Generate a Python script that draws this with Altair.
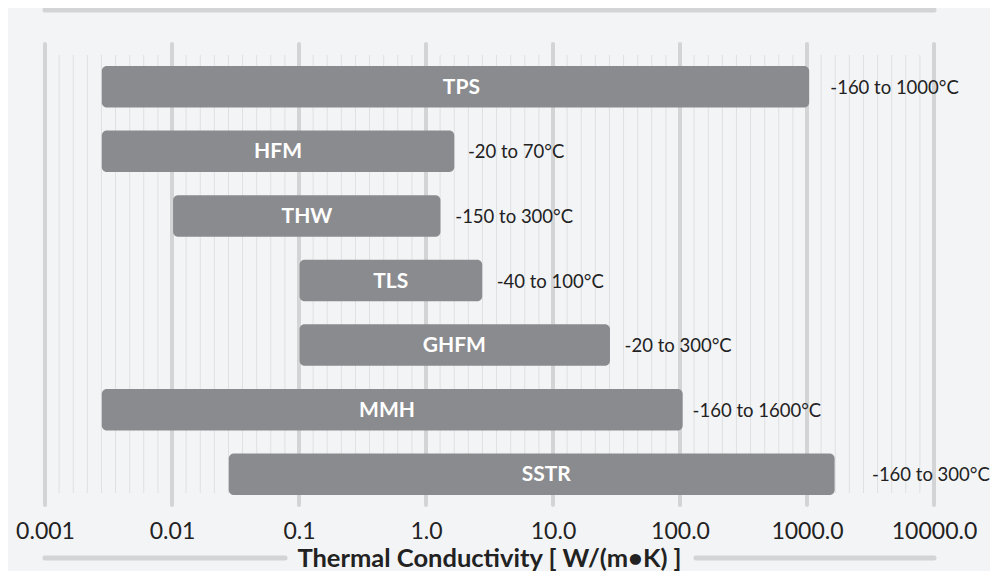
import altair as alt
import pandas as pd

# ---- data ----
methods = ["TPS", "HFM", "THW", "TLS", "GHFM", "MMH", "SSTR"]
k_min = [0.0028, 0.0028, 0.0102, 0.101, 0.101, 0.0028, 0.028]
k_max = [1040, 1.67, 1.30, 2.77, 28.1, 105, 1650]
temp_ranges = ["-160 to 1000°C", "-20 to 70°C", "-150 to 300°C", "-40 to 100°C",
               "-20 to 300°C", "-160 to 1600°C", "-160 to 300°C"]
name_label_at = [1.90, 0.0684, 0.1156, 0.528, 1.67, 0.493, 8.85]
temp_label_at = [1525, 2.14, 1.70, 3.60, 36.6, 125.7, 3250]

tick_values = [0.001, 0.01, 0.1, 1, 10, 100, 1000, 10000]
tick_labels = ["0.001", "0.01", "0.1", "1.0", "10.0", "100.0", "1000.0", "10000.0"]
x_title = "Thermal Conductivity [ W/(m•K) ]"

FONT = "Lato"
W, H = 889, 477

bars_df = pd.DataFrame({
    "method": methods, "kmin": k_min, "kmax": k_max,
    "temp": temp_ranges, "name_at": name_label_at, "temp_at": temp_label_at,
})
major_df = pd.DataFrame({"v": tick_values})
# minor grid lines: 8 evenly spaced (in log position) between each pair of decades
minor_df = pd.DataFrame({"v": [d * 10 ** (k / 9) for d in tick_values[:-1] for k in range(1, 9)]})

xscale = alt.Scale(type="log", domain=[0.001, 10000], nice=False)
yscale = alt.Scale(domain=methods, paddingInner=0.357, paddingOuter=0.372)

label_expr = "{" + ",".join(
    f"'{v}':'{l}'" for v, l in zip(["0.001", "0.01", "0.1", "1", "10", "100", "1000", "10000"], tick_labels)
) + "}[toString(datum.value)]"
xaxis = alt.Axis(values=tick_values, labelExpr=label_expr, grid=False, ticks=False,
                 domain=False, labelFontSize=23, labelFont=FONT, labelColor="#222222",
                 labelPadding=1, labelFlush=False, title=None, labelOverlap=False)

minor = alt.Chart(minor_df).mark_rule(strokeWidth=1, color="#dfe0e2").encode(
    x=alt.X("v:Q", scale=xscale, axis=xaxis),
    y=alt.value(13), y2=alt.value(451),
)
major = alt.Chart(major_df).mark_rule(strokeWidth=4, strokeCap="round", color="#d3d4d6").encode(
    x=alt.X("v:Q", scale=xscale, axis=xaxis),
    y=alt.value(2), y2=alt.value(463),
)

bars = alt.Chart(bars_df).mark_bar(cornerRadius=5, color="#8a8b8e").encode(
    x=alt.X("kmin:Q", scale=xscale, axis=xaxis),
    x2="kmax:Q",
    y=alt.Y("method:N", scale=yscale, axis=None, sort=methods),
)
names = alt.Chart(bars_df).mark_text(color="white", fontWeight="bold", fontSize=21,
                                     font=FONT, baseline="middle", align="center", dy=1).encode(
    x=alt.X("name_at:Q", scale=xscale, axis=xaxis),
    y=alt.Y("method:N", scale=yscale, axis=None, sort=methods),
    text="method:N",
)
temps = alt.Chart(bars_df).mark_text(color="#222222", fontSize=18.5, font=FONT,
                                     baseline="middle", align="left", dy=1).encode(
    x=alt.X("temp_at:Q", scale=xscale, axis=xaxis),
    y=alt.Y("method:N", scale=yscale, axis=None, sort=methods),
    text="temp:N",
)

deco_df = pd.DataFrame({"t": [x_title]})
LINE = "#d3d4d6"
top_line = alt.Chart(deco_df).mark_rule(strokeWidth=5, strokeCap="round", color=LINE).encode(
    x=alt.value(0), x2=alt.value(W), y=alt.value(-32))
bot_left = alt.Chart(deco_df).mark_rule(strokeWidth=5, strokeCap="round", color=LINE).encode(
    x=alt.value(0), x2=alt.value(240), y=alt.value(516))
bot_right = alt.Chart(deco_df).mark_rule(strokeWidth=5, strokeCap="round", color=LINE).encode(
    x=alt.value(651), x2=alt.value(W), y=alt.value(516))
title = alt.Chart(deco_df).mark_text(fontSize=25.5, fontWeight="bold", font=FONT, color="#222222",
                                     align="center", baseline="alphabetic").encode(
    x=alt.value(W / 2), y=alt.value(525), text="t:N")

chart = alt.layer(minor, major, bars, names, temps, top_line, bot_left, bot_right, title).properties(
    width=W, height=H,
    padding={"left": 37, "top": 34, "right": 56, "bottom": 52},
    autosize=alt.AutoSizeParams(type="none"),
).configure(background="#f3f4f6").configure_view(stroke=None)

chart.save("out.html", embed_options={"renderer": "svg", "actions": False})
